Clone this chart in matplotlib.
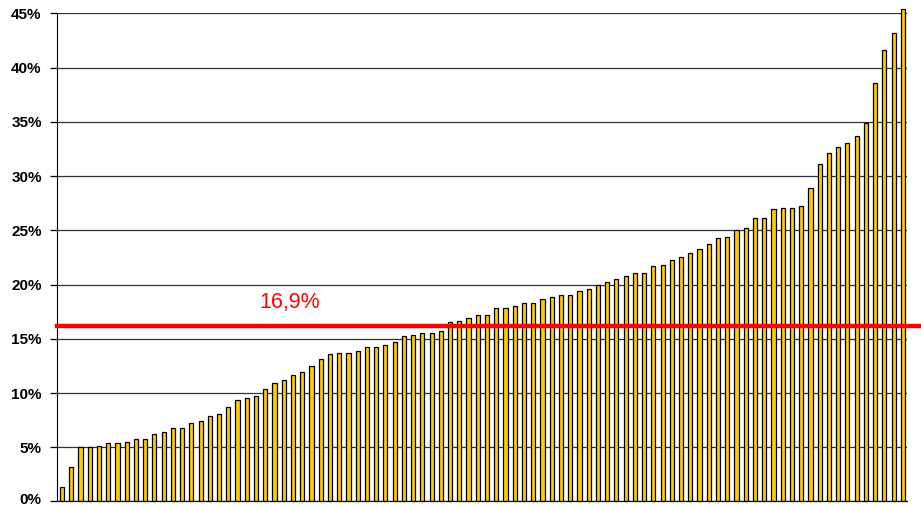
import matplotlib
matplotlib.use("Agg")
import matplotlib.pyplot as plt
from matplotlib.ticker import FuncFormatter
from matplotlib.transforms import ScaledTranslation

values = [1.37, 3.14, 5.0, 5.0, 5.09, 5.39, 5.39, 5.52, 5.79, 5.79,
          6.21, 6.37, 6.76, 6.76, 7.19, 7.46, 7.89, 8.04, 8.71, 9.38,
          9.53, 9.68, 10.36, 10.94, 11.2, 11.64, 11.92, 12.47, 13.15, 13.58,
          13.73, 13.73, 13.85, 14.26, 14.26, 14.41, 14.68, 15.24, 15.39, 15.51,
          15.51, 15.67, 16.5, 16.65, 16.93, 17.15, 17.15, 17.88, 17.88, 18.0,
          18.31, 18.31, 18.71, 18.87, 18.99, 18.99, 19.42, 19.57, 20.0, 20.25,
          20.53, 20.83, 21.08, 21.08, 21.69, 21.84, 22.24, 22.5, 22.88, 23.31,
          23.74, 24.3, 24.42, 25.0, 25.25, 26.11, 26.11, 26.94, 27.09, 27.09,
          27.22, 28.9, 31.14, 32.13, 32.68, 33.08, 33.67, 34.92, 38.55, 41.62,
          43.17, 45.4]
positions = list(range(1, len(values) + 1))
average_line = 16.16
average_label = "16,9%"
y_ticks = [0, 5, 10, 15, 20, 25, 30, 35, 40, 45]

plt.rcParams['font.family'] = ['Liberation Sans', 'DejaVu Sans']

fig = plt.figure(figsize=(9.21, 5.08), dpi=100)
ax = fig.add_axes([0.0619, 0.0128, 0.9229, 0.961])

ax.set_ylim(0, 45)
ax.set_xlim(0.46, 92.45)
ax.set_yticks(y_ticks)
ax.yaxis.set_major_formatter(FuncFormatter(lambda v, p: f"{int(v)}%"))
ax.grid(axis='y', color='#333333', linewidth=0.9, zorder=0)
ax.set_axisbelow(True)

bars = ax.bar(positions, values, width=0.45, color='#FFCC00',
              edgecolor='black', linewidth=0.9, zorder=2)
for b in bars:
    b.set_clip_on(False)

ax.axhline(average_line, xmin=0, xmax=(921 - 57) / (907 - 57), color='#FF0000',
           linewidth=3.2, zorder=3, clip_on=False)
ax.text(25.6, 18.3, average_label, color='#FF0000', fontsize=15.5,
        ha='center', va='center')

for s in ['top', 'right']:
    ax.spines[s].set_visible(False)
ax.spines['left'].set_color('black')
ax.spines['bottom'].set_color('black')
ax.tick_params(axis='x', which='both', bottom=False, labelbottom=False)
ax.tick_params(axis='y', direction='out', length=5, width=0.9, pad=6,
               labelsize=11)
for lbl in ax.get_yticklabels():
    lbl.set_fontweight('bold')

# nudge the bottom "0%" label up a little so it stays inside the figure
first = ax.yaxis.get_major_ticks()[0].label1
first.set_transform(first.get_transform() +
                    ScaledTranslation(0, 2.5 / 100, fig.dpi_scale_trans))

fig.savefig("out.png", dpi=100)
